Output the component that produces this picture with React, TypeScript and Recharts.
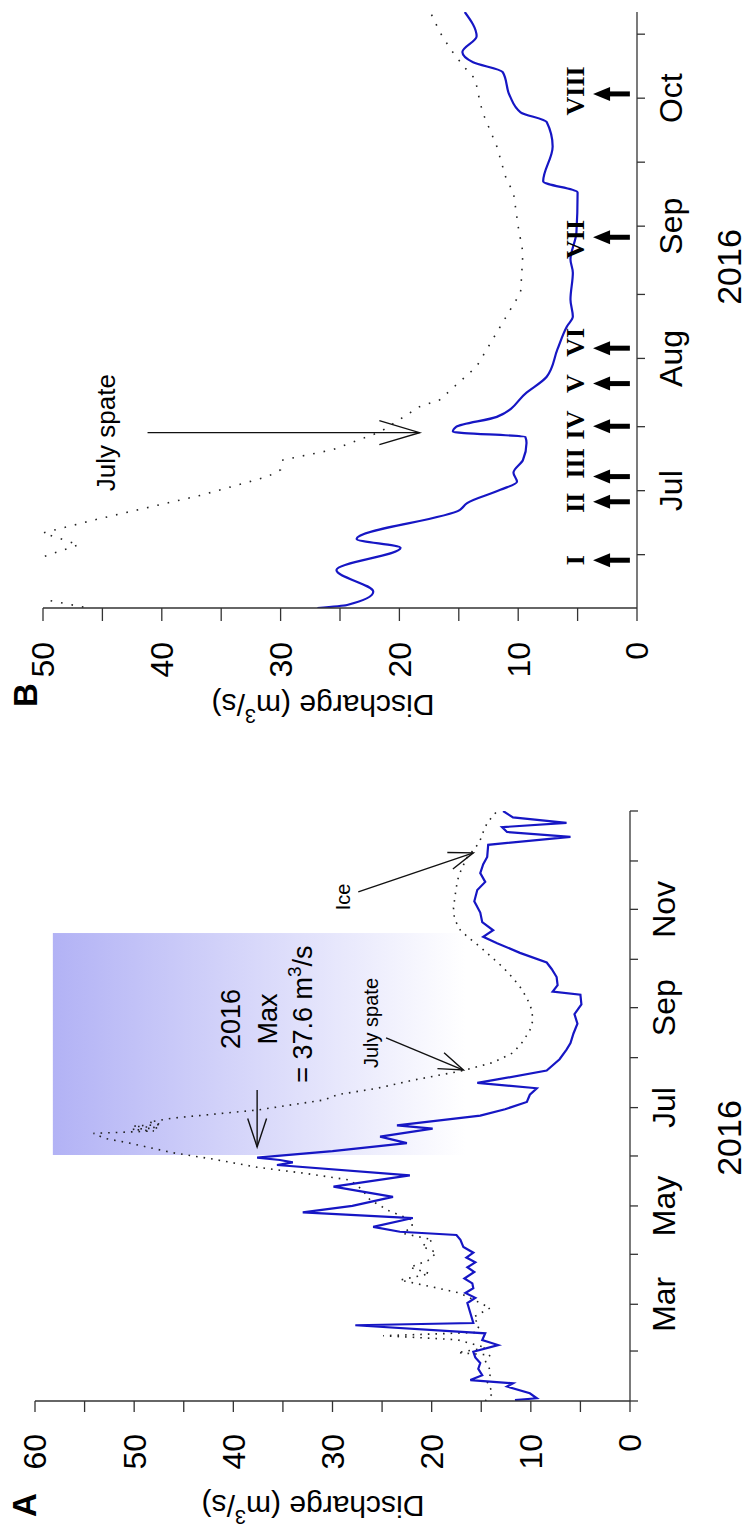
import React from "react";
import {
  LineChart,
  Line,
  XAxis,
  YAxis,
  ReferenceArea,
  ReferenceLine,
  ReferenceDot,
} from "recharts";

const FONT = "Arial, 'Liberation Sans', Helvetica, sans-serif";
const SERIF = "'Times New Roman', 'Liberation Serif', serif";
const BLUE = "#1616c4";
const AXIS = "#333";

// ---- panel A: whole year 2016, x = day of year ----
const aFlowDay = [0.6, 1.7, 4.8, 9, 11, 13, 16, 20, 23.5, 27, 30.6, 34.7, 37.8, 42, 47, 48.4, 54.6, 60.8, 64, 67, 70, 73, 76, 80, 83, 86, 89, 92, 95.5, 100, 103, 105, 108, 113.5, 117, 121, 126.6, 133, 140, 146.4, 148, 149.5, 151, 155, 160, 164, 169, 171, 177, 181, 185.5, 190, 194, 197.3, 199, 205, 212, 218, 222, 228, 234, 240, 246, 252, 254, 258, 263, 268, 272, 278, 284, 288, 292, 297, 303, 310, 317, 322, 327.5, 333, 337.5, 345, 350, 353, 356, 358.6, 362, 366];
const aFlowQ = [11.6, 9.4, 10.1, 12.4, 11.8, 16.1, 14.9, 15.3, 15.1, 15.6, 15.8, 13.3, 14.9, 14.6, 27.7, 15.8, 16.1, 16.4, 15.6, 16.6, 15.8, 15.9, 16.7, 15.7, 16.4, 15.6, 16.5, 15.8, 16.8, 17.1, 17.5, 23.2, 25.9, 21.9, 33.0, 28.0, 23.9, 29.9, 22.2, 35.6, 34.0, 35.3, 37.6, 30.0, 22.5, 25.2, 19.9, 23.5, 15.1, 12.6, 10.4, 10.1, 9.4, 15.4, 13.8, 8.4, 7.1, 6.4, 6.0, 5.7, 5.3, 5.6, 4.9, 5.0, 7.8, 7.3, 7.4, 7.9, 8.4, 11.1, 13.4, 14.8, 13.8, 14.9, 15.1, 15.7, 15.4, 14.6, 15.1, 14.8, 14.4, 14.3, 6.0, 12.4, 12.9, 6.4, 11.8, 12.8];

const aDotDay = [0, 5, 11, 18, 25, 28.5, 30, 33, 38, 40.5, 42.5, 47, 52, 57.7, 62, 67, 70.7, 75, 79, 83, 87, 92, 96, 100, 104, 108, 112, 118, 124.7, 131, 137, 141, 145, 150, 154, 160, 163, 166, 167.5, 168.5, 169.5, 170.5, 171.5, 173, 175.5, 180.5, 186.7, 190, 194, 199, 205, 210, 216, 223, 230, 236, 242.6, 250, 257, 263, 269, 275, 281.6, 287, 292, 299, 306, 315, 323, 330, 337.5, 343, 348, 353, 358.6, 366];
const aDotQ = [14.6, 13.8, 14.4, 14.0, 14.6, 14.1, 17.4, 14.5, 17.4, 24.9, 15.5, 15.2, 15.8, 14.1, 15.5, 17.2, 19.9, 23.2, 20.2, 22.2, 20.4, 19.5, 21.0, 19.9, 22.9, 22.0, 21.9, 24.3, 26.2, 27.0, 28.2, 32.5, 37.6, 42.0, 46.1, 50.5, 53.0, 54.1, 48.0, 50.2, 47.5, 50.1, 47.2, 48.5, 46.1, 37.6, 30.9, 29.5, 25.5, 21.9, 16.8, 13.8, 11.8, 10.8, 10.1, 9.8, 9.9, 10.4, 11.1, 11.9, 12.8, 13.9, 15.1, 16.2, 17.1, 17.7, 17.8, 17.6, 17.4, 17.0, 16.4, 15.6, 15.1, 14.8, 14.4, 13.4];

const monthTicksA = [0, 31, 60, 91, 121, 152, 182, 213, 244, 274, 305, 335, 366];
const labelDaysA = [60, 121, 182, 244, 305];
const labelNamesA = ["Mar", "May", "Jul", "Sep", "Nov"];
const valueTicksA = [0, 5, 10, 15, 20, 25, 30, 35, 40, 45, 50, 55, 60];

// ---- panel B: June to October 2016 ----
const bFlowDay = [154.5, 155.2, 158.3, 163.4, 168.6, 170.7, 177.5, 179.1, 182.2, 184.1, 186.2, 189.2, 193.2, 194.6, 195.8, 197.0, 199.3, 205.0, 208.7, 215.1, 220.5, 222.8, 226.8, 233.1, 236.2, 242.5, 251.9, 254.5, 262.7, 268.4, 270.7, 274.5, 280.1, 282.4, 284.8, 288.5, 294.2];
const bFlowQ = [26.9, 24.4, 22.2, 25.3, 19.9, 23.6, 14.9, 14.3, 11.5, 10.1, 10.4, 9.6, 9.3, 9.4, 15.5, 15.2, 11.8, 9.3, 7.6, 6.7, 5.9, 5.4, 5.6, 5.4, 5.6, 5.1, 5.0, 7.9, 7.1, 7.6, 9.8, 10.7, 11.3, 13.8, 14.7, 13.5, 14.5];

const bDotDay = [154.7, 157.1, 161.8, 166.5, 169.3, 172.1, 175.2, 181.0, 185.3, 186.9, 189.2, 191.6, 195.8, 201.7, 203.3, 211.1, 220.5, 225.2, 228.4, 237.8, 243.9, 251.9, 255.0, 262.7, 270.7, 275.4, 278.4, 281.5, 285.5, 289.5, 294.2];
const bDotQ = [46.6, 51, 53, 50, 47, 50, 45.6, 36.6, 31.1, 30.0, 29.8, 25.6, 21.6, 18.3, 16.6, 13.5, 11.5, 10.5, 9.8, 9.6, 10.0, 10.4, 11.0, 11.8, 13.0, 13.4, 13.6, 14.6, 15.7, 16.6, 17.4];

const ticksB = [167, 182, 197, 213, 228, 244, 259, 274, 289];
const labelDaysB = [182, 213, 244, 274];
const labelNamesB = ["Jul", "Aug", "Sep", "Oct"];
const valueTicksB = [0, 5, 10, 15, 20, 25, 30, 35, 40, 45, 50];

// sampling occasions
const sampleDays = [165.7, 179.4, 185.3, 197.1, 207.1, 215.4, 241.4, 275];
const sampleLabelDays = [165.7, 179.2, 188.4, 197.4, 207.1, 216.8, 240.9, 275.7];
const sampleNames = ["I", "II", "III", "IV", "V", "VI", "VII", "VIII"];

const zip = (d: number[], q: number[]) => d.map((day, i) => ({ day, q: q[i] }));

const fmt = (days: number[], names: string[]) => (v: number) => {
  const i = days.indexOf(v);
  return i >= 0 ? names[i] : "";
};
const fmtTen = (v: number) => (v % 10 === 0 ? String(v) : "");

function OpenArrow(p: any) {
  const { x1, y1, x2, y2, head = 24, spread = 0.33 } = p;
  const a = Math.atan2(y2 - y1, x2 - x1);
  const ax = x2 - head * Math.cos(a - spread);
  const ay = y2 - head * Math.sin(a - spread);
  const bx = x2 - head * Math.cos(a + spread);
  const by = y2 - head * Math.sin(a + spread);
  return (
    <g stroke="#111" strokeWidth={1.4} fill="none">
      <line x1={x1} y1={y1} x2={x2} y2={y2} />
      <polyline points={`${ax},${ay} ${x2},${y2} ${bx},${by}`} />
    </g>
  );
}

function SampleArrow(p: any) {
  const { x1, y1, x2, y2 } = p;
  const headLen = 16;
  const half = 7;
  const base = y2 + headLen;
  return (
    <g>
      <line x1={x1} y1={y1} x2={x2} y2={base} stroke="#000" strokeWidth={5} />
      <polygon points={`${x2},${y2} ${x2 - half},${base + 1} ${x2 + half},${base + 1}`} fill="#000" />
    </g>
  );
}

function GradientBox(p: any) {
  return (
    <g>
      <defs>
        <linearGradient id="maxBoxFill" x1="0" y1="0" x2="0" y2="1">
          <stop offset="0" stopColor="#b2b2f5" />
          <stop offset="0.95" stopColor="#ffffff" />
        </linearGradient>
      </defs>
      <rect x={p.x} y={p.y} width={p.width} height={p.height} fill="url(#maxBoxFill)" />
    </g>
  );
}

const txt = (content: React.ReactNode, size: number, extra: any = {}) => (p: any) => (
  <text x={p.cx} y={p.cy} fontSize={size} fontFamily={FONT} fill="#000" textAnchor="middle" {...extra}>
    {content}
  </text>
);

const tickStyle = { fill: "#000", fontSize: 32, fontFamily: FONT };

export default function App() {
  return (
    <div style={{ position: "fixed", left: 0, top: 0, width: 749, height: 1539, overflow: "hidden", background: "#fff" }}>
      <div
        style={{
          position: "absolute",
          left: 0,
          top: 0,
          width: 1539,
          height: 749,
          transformOrigin: "0 0",
          transform: "translate(0px, 1539px) rotate(-90deg)",
          background: "#fff",
        }}
      >
        <div style={{ position: "absolute", left: 0, top: 0 }}>
          <LineChart width={780} height={749} margin={{ top: 35, right: 52, bottom: 19, left: 38 }}>
            <XAxis
              type="number"
              dataKey="day"
              domain={[0, 366]}
              allowDataOverflow
              ticks={monthTicksA}
              interval={0}
              tickFormatter={fmt(labelDaysA, labelNamesA)}
              tick={tickStyle}
              tickSize={8}
              tickMargin={14}
              height={100}
              axisLine={{ stroke: AXIS, strokeWidth: 1.3 }}
              tickLine={{ stroke: AXIS, strokeWidth: 1.3 }}
            />
            <YAxis
              type="number"
              domain={[0, 60]}
              ticks={valueTicksA}
              interval={0}
              tickFormatter={fmtTen}
              tick={tickStyle}
              tickSize={11}
              tickMargin={22}
              width={100}
              axisLine={{ stroke: AXIS, strokeWidth: 1.3 }}
              tickLine={{ stroke: AXIS, strokeWidth: 1.3 }}
            />
            <ReferenceArea x1={152.6} x2={290.3} y1={14.4} y2={58.2} shape={GradientBox} />
            <Line
              data={zip(aDotDay, aDotQ)}
              dataKey="q"
              type="linear"
              stroke="#222"
              strokeWidth={1.6}
              strokeDasharray="1.6 6"
              dot={false}
              isAnimationActive={false}
            />
            <Line
              data={zip(aFlowDay, aFlowQ)}
              dataKey="q"
              type="linear"
              stroke={BLUE}
              strokeWidth={2.2}
              dot={false}
              isAnimationActive={false}
            />
            <ReferenceLine segment={[{ x: 192.9, y: 37.6 }, { x: 157.6, y: 37.6 }]} shape={(p: any) => <OpenArrow {...p} head={30} spread={0.32} />} />
            <ReferenceDot x={237} y={39.3} shape={txt("2016", 27)} />
            <ReferenceDot x={237} y={35.6} shape={txt("Max", 27)} />
            <ReferenceDot
              x={240}
              y={32.1}
              shape={txt(
                <>
                  = 37.6 m<tspan dy={-11} fontSize={19}>3</tspan>
                  <tspan dy={11}>/s</tspan>
                </>,
                27
              )}
            />
            <ReferenceDot x={234.5} y={25.4} shape={txt("July spate", 20)} />
            <ReferenceLine segment={[{ x: 225.2, y: 24.6 }, { x: 205.3, y: 16.8 }]} shape={(p: any) => <OpenArrow {...p} head={26} spread={0.34} />} />
            <ReferenceDot x={312.7} y={28.2} shape={txt("Ice", 20)} />
            <ReferenceLine segment={[{ x: 315.8, y: 27.4 }, { x: 340, y: 15.8 }]} shape={(p: any) => <OpenArrow {...p} head={26} spread={0.34} />} />
          </LineChart>
        </div>

        <div style={{ position: "absolute", left: 780, top: 0 }}>
          <LineChart width={759} height={749} margin={{ top: 43, right: 12, bottom: 12, left: 51 }}>
            <XAxis
              type="number"
              dataKey="day"
              domain={[154.5, 294.2]}
              allowDataOverflow
              ticks={ticksB}
              interval={0}
              tickFormatter={fmt(labelDaysB, labelNamesB)}
              tick={tickStyle}
              tickSize={8}
              tickMargin={14}
              height={100}
              axisLine={{ stroke: AXIS, strokeWidth: 1.3 }}
              tickLine={{ stroke: AXIS, strokeWidth: 1.3 }}
            />
            <YAxis
              type="number"
              domain={[0, 50]}
              allowDataOverflow
              ticks={valueTicksB}
              interval={0}
              tickFormatter={fmtTen}
              tick={tickStyle}
              tickSize={13}
              tickMargin={21}
              width={100}
              axisLine={{ stroke: AXIS, strokeWidth: 1.3 }}
              tickLine={{ stroke: AXIS, strokeWidth: 1.3 }}
            />
            <Line
              data={zip(bDotDay, bDotQ)}
              dataKey="q"
              type="linear"
              stroke="#222"
              strokeWidth={1.6}
              strokeDasharray="1.6 9"
              dot={false}
              isAnimationActive={false}
            />
            <Line
              data={zip(bFlowDay, bFlowQ)}
              dataKey="q"
              type="monotone"
              stroke={BLUE}
              strokeWidth={2.2}
              dot={false}
              isAnimationActive={false}
            />
            <ReferenceDot x={195.6} y={43.9} shape={txt("July spate", 26)} />
            <ReferenceLine segment={[{ x: 195.6, y: 41.2 }, { x: 195.6, y: 18.3 }]} shape={(p: any) => <OpenArrow {...p} head={42} spread={0.29} />} />
            {sampleDays.map((d, i) => (
              <ReferenceLine key={"a" + i} segment={[{ x: d, y: 0.6 }, { x: d, y: 3.7 }]} shape={SampleArrow} />
            ))}
            {sampleLabelDays.map((d, i) => (
              <ReferenceDot
                key={"l" + i}
                x={d}
                y={4.5}
                shape={txt(sampleNames[i], 26, { fontFamily: SERIF, fontWeight: "bold" })}
              />
            ))}
          </LineChart>
        </div>

        <svg width={1539} height={749} style={{ position: "absolute", left: 0, top: 0, pointerEvents: "none" }}>
          <g fontFamily={FONT} fill="#000">
            <text x={22} y={36} fontSize={33} fontWeight="bold">A</text>
            <text x={832} y={37} fontSize={33} fontWeight="bold">B</text>
            <text x={33} y={313} fontSize={30} textAnchor="middle" dominantBaseline="central" transform="rotate(-90 33 313)">
              Discharge (m<tspan dy={-11} fontSize={20}>3</tspan>
              <tspan dy={11}>/s)</tspan>
            </text>
            <text x={834} y={323} fontSize={30} textAnchor="middle" dominantBaseline="central" transform="rotate(-90 834 323)">
              Discharge (m<tspan dy={-11} fontSize={20}>3</tspan>
              <tspan dy={11}>/s)</tspan>
            </text>
            <text x={401} y={741} fontSize={34} textAnchor="middle">2016</text>
            <text x={1272} y={741} fontSize={34} textAnchor="middle">2016</text>
          </g>
        </svg>
      </div>
    </div>
  );
}
